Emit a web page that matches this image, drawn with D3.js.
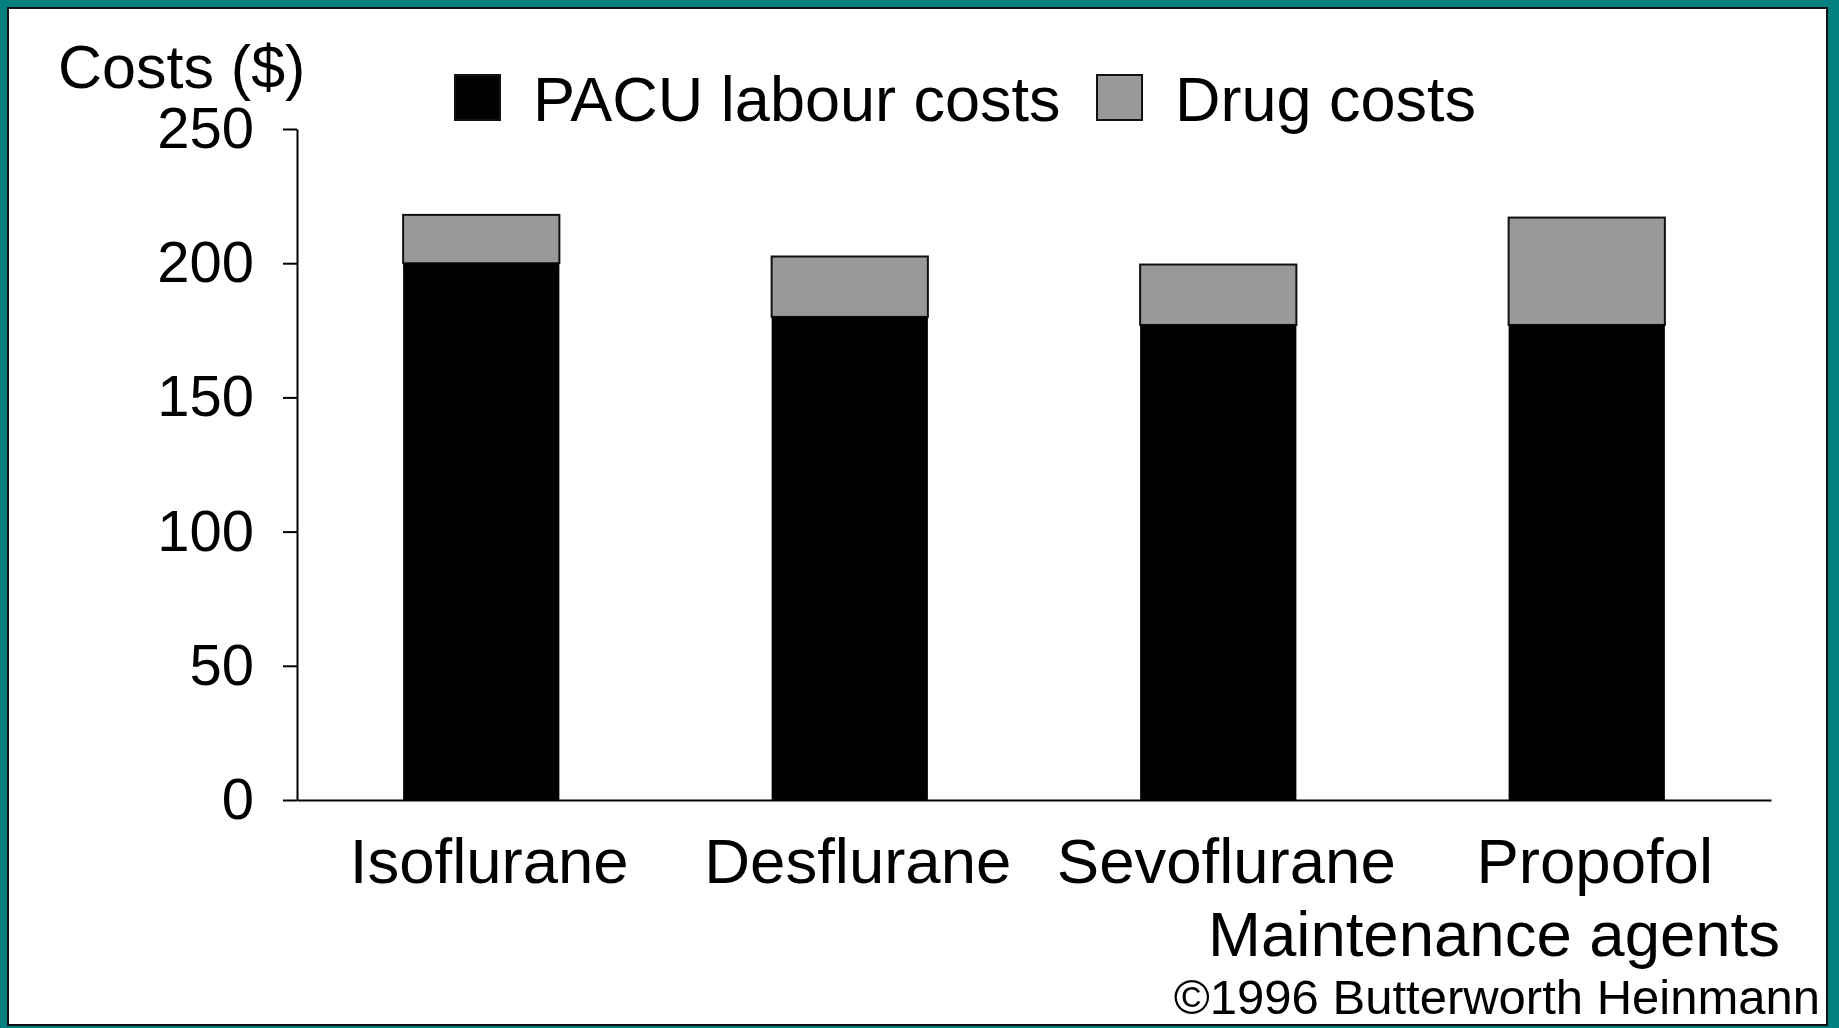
<!DOCTYPE html>
<html>
<head>
<meta charset="utf-8">
<script src="https://cdn.jsdelivr.net/npm/d3@7"></script>
<style>
  body { margin: 0; background: #008080; }
  svg { display: block; }
  text { font-family: "Liberation Sans", Arial, sans-serif; fill: #000; }
</style>
</head>
<body>
<svg width="1839" height="1028"></svg>
<script>
// data
const agents = ["Isoflurane", "Desflurane", "Sevoflurane", "Propofol"];
const pacuCosts = [200, 180, 177, 177];
const drugCosts = [18, 22.5, 22.5, 40];
const yTicks = [0, 50, 100, 150, 200, 250];
const seriesNames = ["PACU labour costs", "Drug costs"];
const seriesColors = ["#000000", "#999999"];

const svg = d3.select("svg");

// frame
svg.append("rect")
    .attr("width", 1839).attr("height", 1028)
    .attr("fill", "#008080");
svg.append("rect")
    .attr("x", 8).attr("y", 8)
    .attr("width", 1819).attr("height", 1017)
    .attr("fill", "#fff")
    .attr("stroke", "#111")
    .attr("stroke-width", 2);

const x = d3.scaleBand()
    .domain(agents)
    .range([297, 1771])
    .paddingInner(0.576)
    .paddingOuter(0.288);

const y = d3.scaleLinear()
    .domain([0, 250])
    .range([800, 129]);

const rows = agents.map((a, i) => ({ agent: a, pacu: pacuCosts[i], drug: drugCosts[i] }));

// bars
const bars = svg.append("g");
bars.selectAll("rect.drug")
    .data(rows)
    .join("rect")
    .attr("class", "drug")
    .attr("x", d => x(d.agent))
    .attr("y", d => y(d.pacu + d.drug))
    .attr("width", x.bandwidth())
    .attr("height", d => y(d.pacu) - y(d.pacu + d.drug))
    .attr("fill", seriesColors[1])
    .attr("stroke", "#111")
    .attr("stroke-width", 2);

bars.selectAll("rect.pacu")
    .data(rows)
    .join("rect")
    .attr("class", "pacu")
    .attr("x", d => x(d.agent))
    .attr("y", d => y(d.pacu))
    .attr("width", x.bandwidth())
    .attr("height", d => y(0) - y(d.pacu))
    .attr("fill", seriesColors[0]);

// y axis
const yAxis = svg.append("g")
    .attr("transform", "translate(297,0)")
    .call(d3.axisLeft(y).tickValues(yTicks).tickSize(14).tickSizeOuter(0).tickPadding(29));
yAxis.select(".domain").attr("stroke", "#000").attr("stroke-width", 2);
yAxis.selectAll(".tick line").attr("stroke", "#000").attr("stroke-width", 2);
yAxis.selectAll(".tick text")
    .style("font-family", "'Liberation Sans', Arial, sans-serif")
    .style("font-size", "58px")
    .attr("fill", "#000");

// x axis
const xAxis = svg.append("g")
    .attr("transform", "translate(0,800)")
    .call(d3.axisBottom(x).tickSize(0).tickSizeOuter(0).tickPadding(38));
xAxis.select(".domain").attr("stroke", "#000").attr("stroke-width", 2);
xAxis.selectAll(".tick text")
    .attr("dx", 8)
    .style("font-family", "'Liberation Sans', Arial, sans-serif")
    .style("font-size", "63.5px")
    .attr("fill", "#000");

// titles
svg.append("text")
    .attr("x", 58).attr("y", 88)
    .style("font-size", "61px")
    .text("Costs ($)");

svg.append("text")
    .attr("x", 1780).attr("y", 956)
    .attr("text-anchor", "end")
    .style("font-size", "63.5px")
    .text("Maintenance agents");

svg.append("text")
    .attr("x", 1820).attr("y", 1014)
    .attr("text-anchor", "end")
    .style("font-size", "49px")
    .text("\u00A91996 Butterworth Heinmann");

// legend
const legendX = [455, 1097];
const legend = svg.append("g");
legend.selectAll("rect")
    .data(seriesNames)
    .join("rect")
    .attr("x", (d, i) => legendX[i])
    .attr("y", 75)
    .attr("width", 45)
    .attr("height", 45)
    .attr("fill", (d, i) => seriesColors[i])
    .attr("stroke", "#111")
    .attr("stroke-width", 2);
legend.selectAll("text")
    .data(seriesNames)
    .join("text")
    .attr("x", (d, i) => legendX[i] + 78)
    .attr("y", 121)
    .style("font-size", "63px")
    .text(d => d);
</script>
</body>
</html>
